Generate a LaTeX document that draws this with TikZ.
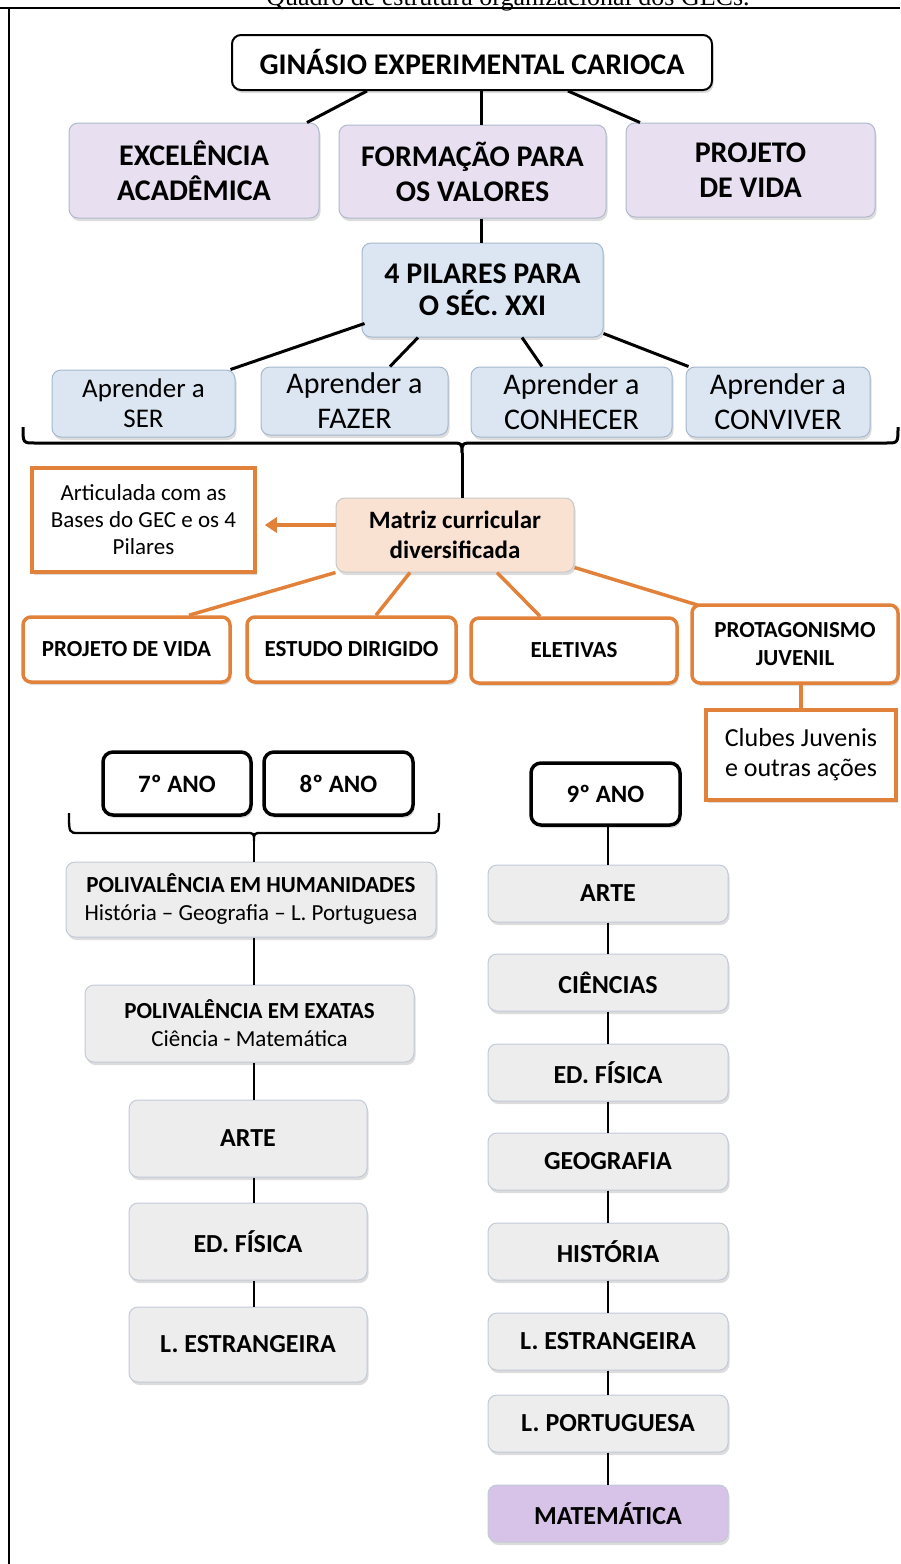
\documentclass[tikz,border=0pt]{standalone}
\usepackage{fontspec}
\setmainfont{Carlito}
\newfontfamily\serifttl{Liberation Serif}
\usetikzlibrary{calc,shadows,arrows.meta}
\definecolor{lav}{HTML}{E8E0F0}
\definecolor{lavb}{HTML}{AEB9CC}
\definecolor{blu}{HTML}{DCE6F2}
\definecolor{blub}{HTML}{A6B8CE}
\definecolor{peach}{HTML}{FAE2D3}
\definecolor{peachb}{HTML}{C8C8C8}
\definecolor{gry}{HTML}{EDEDED}
\definecolor{gryb}{HTML}{C2CAD6}
\definecolor{matc}{HTML}{D8C3E8}
\definecolor{org}{HTML}{E2823A}
\tikzset{
  sh/.style={drop shadow={opacity=0.28,shadow xshift=1.5pt,shadow yshift=-3pt}},
  bx/.style={rounded corners=9pt, inner sep=0pt, align=center, line width=1pt, sh},
  gecb/.style={bx, draw=black, line width=2pt, fill=white, font=\fontsize{30}{34}\selectfont\bfseries},
  lavbox/.style={bx, draw=lavb, fill=lav, font=\fontsize{30}{35}\selectfont\bfseries},
  blubox/.style={bx, draw=blub, fill=blu},
  peachbox/.style={bx, draw=peachb, fill=peach, font=\fontsize{25}{30}\selectfont\bfseries},
  grybox/.style={bx, draw=gryb, fill=gry, font=\fontsize{26}{30}\selectfont\bfseries},
  matbox/.style={bx, draw=gryb, fill=matc, font=\fontsize{26}{30}\selectfont\bfseries},
  obox/.style={bx, draw=org, line width=3.5pt, fill=white, rounded corners=8pt, font=\fontsize{23}{28}\selectfont\bfseries},
  osq/.style={obox, rounded corners=0pt, font=\fontsize{23}{27}\selectfont},
  anob/.style={bx, draw=black, line width=3.5pt, fill=white, rounded corners=10pt, font=\fontsize{25}{30}\selectfont\bfseries},
  conn/.style={line width=3pt, black},
  thin/.style={line width=2.3pt, black},
  oconn/.style={line width=3.5pt, org},
  oarr/.style={line width=4.5pt, org, -{Triangle[length=12pt,width=15pt]}, shorten >=8pt}
}
\begin{document}
\begin{tikzpicture}[x=1pt,y=-1pt]
\useasboundingbox (0,0) rectangle (900,1564);
% title and frame
\node[anchor=base, inner sep=0pt, font=\serifttl\fontsize{26}{28}\selectfont] (ttl) at (508,5) {Quadro de estrutura organizacional dos GECs.};
\draw[line width=2.5pt] (0,8) -- (900,8);
\draw[line width=2.5pt] (9,8) -- (9,1564);

% top level
\node[gecb, minimum width=480pt, minimum height=55pt] (gec) at (472,62.5) {GINÁSIO EXPERIMENTAL CARIOCA};
\node[lavbox, minimum width=250pt, minimum height=95pt] (exc) at (194,170.5) {EXCELÊNCIA\\ACADÊMICA};
\node[lavbox, minimum width=267pt, minimum height=93pt] (form) at (472.5,171.5) {FORMAÇÃO PARA\\OS VALORES};
\node[lavbox, minimum width=249pt, minimum height=94pt] (proj) at (750.5,170) {PROJETO\\DE VIDA};

\node[blubox, minimum width=241pt, minimum height=94pt, font=\fontsize{30}{32}\selectfont\bfseries] (pil) at (482.5,290) {4 PILARES PARA\\O SÉC. XXI};
\node[blubox, minimum width=183pt, minimum height=67pt, font=\fontsize{27}{30}\selectfont] (ser) at (143.5,403.5) {Aprender a\\SER};
\node[blubox, minimum width=187pt, minimum height=68pt, font=\fontsize{30}{35}\selectfont] (faz) at (354.5,401) {Aprender a\\FAZER};
\node[blubox, minimum width=201pt, minimum height=70pt, font=\fontsize{30}{35}\selectfont] (con) at (571.5,402) {Aprender a\\CONHECER};
\node[blubox, minimum width=184pt, minimum height=70pt, font=\fontsize{30}{35}\selectfont] (cvv) at (778,402) {Aprender a\\CONVIVER};

\draw[conn] ($(gec.south)+(-105,0)$) -- ($(exc.north)+(113,0)$);
\draw[conn] ($(gec.south)+(9,0)$) -- ($(form.north)+(8.5,0)$);
\draw[conn] ($(gec.south)+(96,0)$) -- ($(proj.north)+(-110.5,0)$);
\draw[conn] ($(form.south)+(8.5,0)$) -- ($(pil.north)+(-1.5,0)$);
\draw[conn] ($(pil.south west)+(3,-14)$) -- ($(ser.north east)+(-5,0)$);
\draw[conn] ($(pil.south)+(-64.5,0)$) -- ($(faz.north)+(35.5,0)$);
\draw[conn] ($(pil.south)+(39.5,0)$) -- ($(con.north)+(-29.5,0)$);
\draw[conn] ($(pil.south east)+(0,-4)$) -- ($(cvv.north west)+(3,0)$);

% big brace
\coordinate (bt) at (462,453);
\draw[conn] (23,427) .. controls (23,443) .. (35,443) -- (450,443) .. controls (462,443) .. (bt) .. controls (462,443) .. (474,443) -- (886,443) .. controls (898,443) .. (898,427);

% matriz
\node[peachbox, minimum width=238pt, minimum height=74pt] (mat) at (455,535) {Matriz curricular\\diversificada};
\draw[conn] (bt) -- (mat.north -| bt);
\node[osq, minimum width=223pt, minimum height=104pt] (art) at (143.5,520) {Articulada com as\\Bases do GEC e os 4\\Pilares};
\coordinate (ap) at ($(mat.west)+(0,-10)$);
\draw[oarr] (ap) -- (art.east |- ap);

\node[obox, minimum width=207pt, minimum height=65pt] (pv) at (126.5,649.5) {PROJETO DE VIDA};
\node[obox, minimum width=209pt, minimum height=65pt] (ed) at (351.5,649.5) {ESTUDO DIRIGIDO};
\node[obox, minimum width=206pt, minimum height=65pt] (el) at (574,650.5) {ELETIVAS};
\node[obox, minimum width=206pt, minimum height=78pt] (prot) at (795,644) {PROTAGONISMO\\JUVENIL};
\node[osq, minimum width=190pt, minimum height=90pt, font=\fontsize{26}{30}\selectfont] (clu) at (801,755) {Clubes Juvenis\\e outras ações};

\draw[oconn] (mat.south west) -- ($(pv.north)+(62.5,0)$);
\draw[oconn] ($(mat.south)+(-45,0)$) -- ($(ed.north)+(24.5,0)$);
\draw[oconn] ($(mat.south)+(42,0)$) -- ($(el.north)+(-34,0)$);
\draw[oconn] ($(mat.south east)+(0,-5)$) -- ($(prot.north west)+(8,2)$);
\draw[oconn] ($(prot.south)+(6,0)$) -- ($(clu.north)+(0,0)$);

% years
\node[anob, minimum width=148pt, minimum height=63pt] (a7) at (177,783.5) {7º ANO};
\node[anob, minimum width=149pt, minimum height=63pt] (a8) at (338.5,783.5) {8º ANO};
\node[anob, minimum width=149pt, minimum height=62pt] (a9) at (605.5,794) {9º ANO};

% left column
\node[grybox, minimum width=370pt, minimum height=75pt, font=\fontsize{23}{28}\selectfont] (hum) at (251,899.5) {\bfseries POLIVALÊNCIA EM HUMANIDADES\\História – Geografia – L. Portuguesa};
\node[grybox, minimum width=329pt, minimum height=77pt, font=\fontsize{23}{28}\selectfont] (exa) at (249.5,1023.5) {\bfseries POLIVALÊNCIA EM EXATAS\\Ciência - Matemática};
\node[grybox, minimum width=238pt, minimum height=77pt] (lart) at (248,1138.5) {ARTE};
\node[grybox, minimum width=238pt, minimum height=77pt] (led) at (248,1241.5) {ED. FÍSICA};
\node[grybox, minimum width=238pt, minimum height=75pt] (lle) at (248,1344.5) {L. ESTRANGEIRA};

\coordinate (lsp) at (254,0);
\coordinate (bt2) at (254,841);
\draw[thin] (69,813) .. controls (69,833) .. (79,833) -- (246,833) .. controls (254,833) .. (bt2) .. controls (254,833) .. (262,833) -- (429,833) .. controls (439,833) .. (439,813);
\draw[thin] (bt2) -- (hum.north -| lsp);
\draw[thin] (hum.south -| lsp) -- (exa.north -| lsp);
\draw[thin] (exa.south -| lsp) -- (lart.north -| lsp);
\draw[thin] (lart.south -| lsp) -- (led.north -| lsp);
\draw[thin] (led.south -| lsp) -- (lle.north -| lsp);

% right column
\node[grybox, minimum width=240pt, minimum height=57pt] (r1) at (608,893.5) {ARTE};
\node[grybox, minimum width=240pt, minimum height=57pt] (r2) at (608,982.5) {CIÊNCIAS};
\node[grybox, minimum width=240pt, minimum height=57pt] (r3) at (608,1072.5) {ED. FÍSICA};
\node[grybox, minimum width=240pt, minimum height=57pt] (r4) at (608,1161.5) {GEOGRAFIA};
\node[grybox, minimum width=240pt, minimum height=57pt] (r5) at (608,1251.5) {HISTÓRIA};
\node[grybox, minimum width=240pt, minimum height=57pt] (r6) at (608,1341.5) {L. ESTRANGEIRA};
\node[grybox, minimum width=240pt, minimum height=57pt] (r7) at (608,1423.5) {L. PORTUGUESA};
\node[matbox, minimum width=240pt, minimum height=57pt] (r8) at (608,1513.5) {MATEMÁTICA};

\draw[thin] (a9.south -| r1) -- (r1.north);
\draw[thin] (r1.south) -- (r2.north);
\draw[thin] (r2.south) -- (r3.north);
\draw[thin] (r3.south) -- (r4.north);
\draw[thin] (r4.south) -- (r5.north);
\draw[thin] (r5.south) -- (r6.north);
\draw[thin] (r6.south) -- (r7.north);
\draw[thin] (r7.south) -- (r8.north);
\end{tikzpicture}
\end{document}
